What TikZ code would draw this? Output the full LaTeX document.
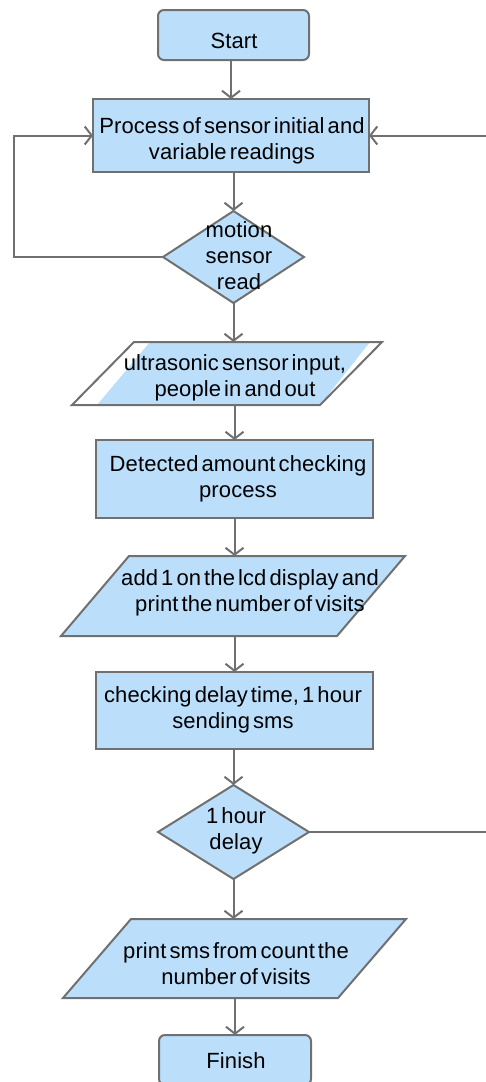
\documentclass[tikz,border=0pt]{standalone}
\usepackage{fontspec}
\setmainfont{Liberation Sans}[LetterSpace=0.5, WordSpace=0.5]
\usetikzlibrary{shapes.geometric, arrows.meta}
\definecolor{boxfill}{RGB}{187,222,251}
\definecolor{edge}{RGB}{112,112,112}

% slanted input/output block around a named rectangle node: #2 = node, #3 = half slant
\newcommand{\ioblock}[3][]{%
  \path[shapebase,#1] ([xshift=-#3]#2.south west) -- ([xshift=#3]#2.north west)
    -- ([xshift=#3]#2.north east) -- ([xshift=-#3]#2.south east) -- cycle;}

\begin{document}
\begin{tikzpicture}[x=1pt, y=-1pt,
  every node/.style={inner sep=0pt, outer sep=0pt},
  shapebase/.style={draw=edge, line width=2pt, fill=boxfill},
  terminal/.style={shapebase, rectangle, rounded corners=6pt},
  stepbox/.style={shapebase, rectangle},
  decision/.style={shapebase, diamond},
  iobody/.style={rectangle},
  txt/.style={font=\fontsize{22}{26}\selectfont, align=center, text=black},
  flow/.style={draw=edge, line width=2pt, -{Straight Barb[length=7pt, width=18pt]}},
]
\useasboundingbox (0,0) rectangle (486,1082);

% shapes
\node[terminal, minimum width=151pt, minimum height=50pt] (start) at (233.5,35) {};
\node[stepbox, minimum width=276pt, minimum height=73pt] (proc) at (231,135.5) {};
\node[decision, minimum width=141pt, minimum height=92pt] (d1) at (233.5,257) {};

\node[iobody, minimum width=248pt, minimum height=63pt] (p1) at (227,373.5) {};
% the fill of this block sits slightly off its outline
\fill[boxfill] (97,405) -- (150,342) -- (370,342) -- (320,405) -- cycle;
\ioblock[fill=none]{p1}{31pt}

\node[stepbox, minimum width=277pt, minimum height=78pt] (det) at (234.5,479) {};

\node[iobody, minimum width=276pt, minimum height=80pt] (p2) at (233,596) {};
\ioblock{p2}{34pt}

\node[stepbox, minimum width=277pt, minimum height=77pt] (chk) at (234.5,710.5) {};
\node[decision, minimum width=151pt, minimum height=94pt] (d2) at (233.5,832) {};

\node[iobody, minimum width=275pt, minimum height=79pt] (p3) at (234.5,958.5) {};
\ioblock{p3}{34pt}

\node[terminal, minimum width=152pt, minimum height=50pt] (fin) at (235,1060) {};

% texts
\node[txt, anchor=base] (startt) at (234,48.5) {Start};
\node[txt] (proct) at (232,140.5) {Process of sensor initial and\\variable readings};
\node[txt] (d1t) at (239,255.5) {motion\\sensor\\read};
\node[txt] (p1t) at (235,378) {ultrasonic sensor input,\\people in and out};
\node[txt] (dett) at (238,479) {Detected amount checking\\process};
\node[txt] (p2t) at (250,593) {add 1 on the lcd display and\\print the number of visits};
\node[txt] (chkt) at (233,709.5) {checking delay time, 1 hour\\sending sms};
\node[txt] (d2t) at (236,830.5) {1 hour\\delay};
\node[txt] (p3t) at (236,963.5) {print sms from count the\\number of visits};
\node[txt, anchor=base] (fint) at (236,1068) {Finish};

% connectors
\draw[flow] (start.south -| proc.north) -- (proc.north);
\draw[flow] (proc.south -| d1.north) -- (d1.north);
\draw[flow] (d1.south) -- (d1.south |- p1.north);
\draw[flow] (det.north |- p1.south) -- (det.north);
\draw[flow] (det.south) -- (det.south |- p2.north);
\draw[flow] (chk.north |- p2.south) -- (chk.north);
\draw[flow] (chk.south -| d2.north) -- (d2.north);
\draw[flow] (d2.south) -- (d2.south |- p3.north);
\draw[flow] (fin.north |- p3.south) -- (fin.north);

% loop-back lines
\coordinate (leftrail) at (14,0);
\coordinate (rightrail) at (489,0);
\draw[flow] (d1.west) -- (d1.west -| leftrail) |- (proc.west);
\draw[flow] (d2.east) -- (d2.east -| rightrail) |- (proc.east);
\end{tikzpicture}
\end{document}
